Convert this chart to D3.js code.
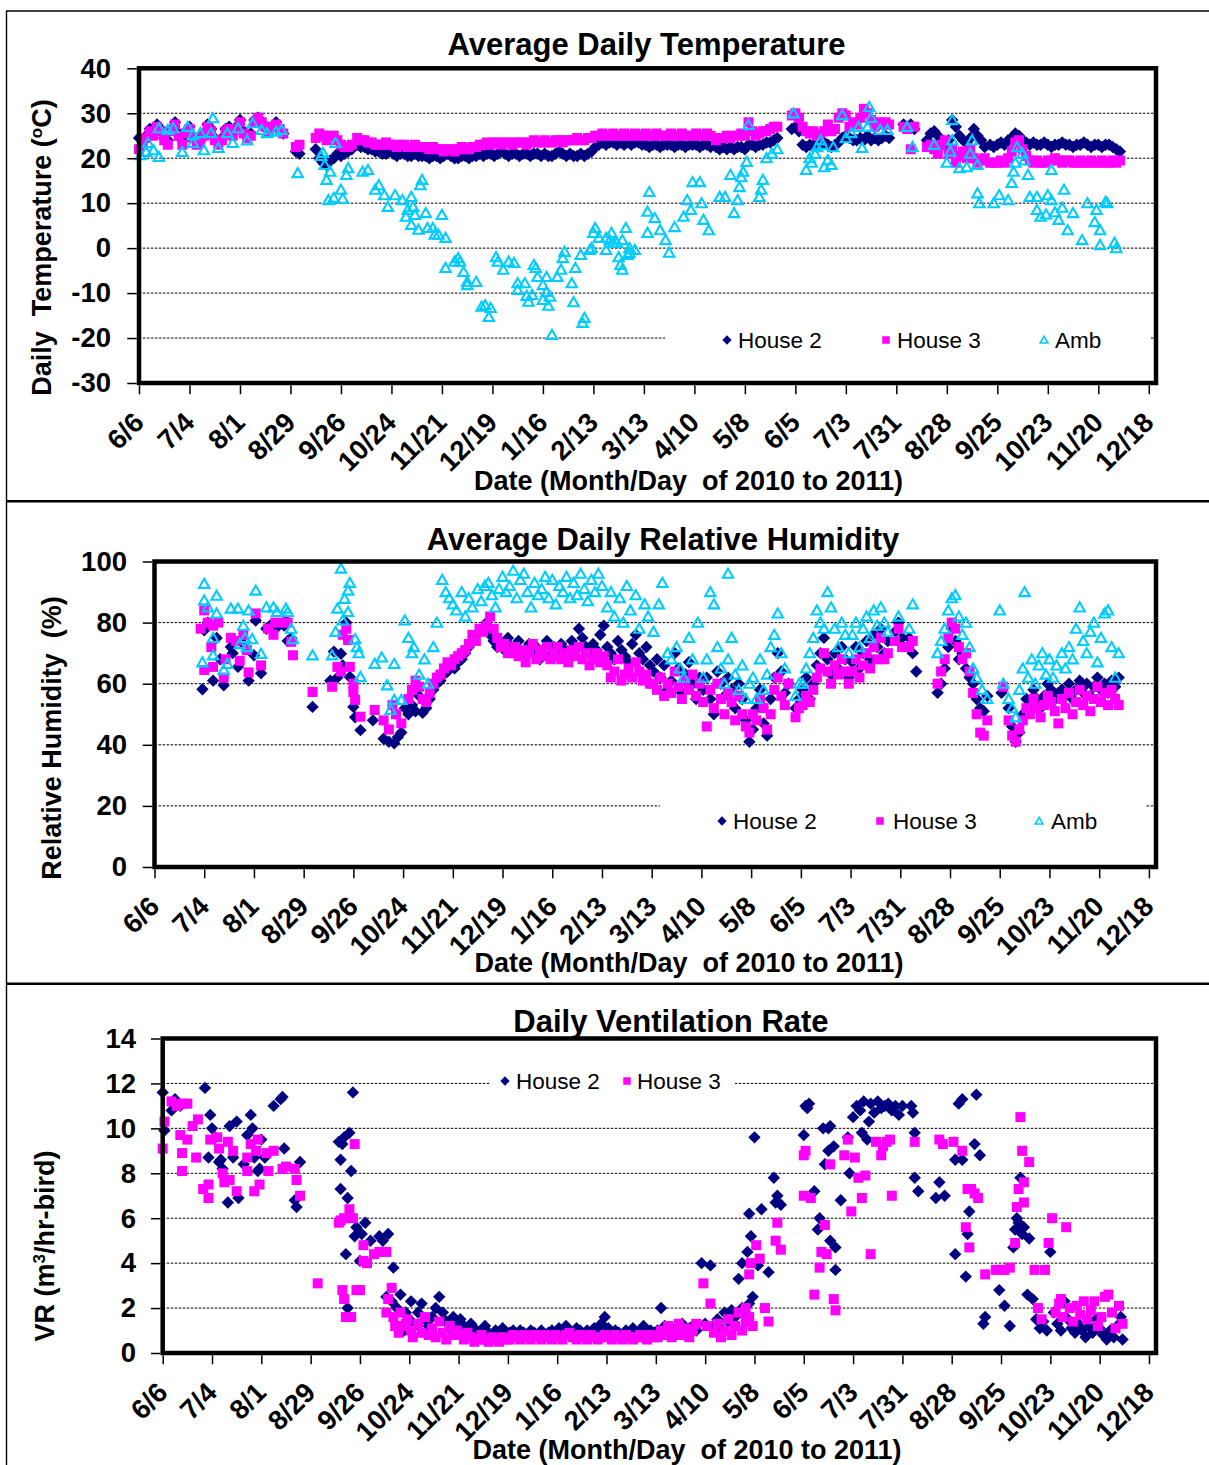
<!DOCTYPE html>
<html>
<head>
<meta charset="utf-8">
<script src="https://cdn.jsdelivr.net/npm/d3@7/dist/d3.min.js"></script>
<style>
  body { margin: 0; background: #fff; }
  svg text { font-family: "Liberation Sans", Arial, sans-serif; }
</style>
</head>
<body>
<svg id="chart" width="1209" height="1465"></svg>
<script>
// ---------------- data ----------------
// x values are days after 6/6/2010; an entry is [day, value] or
// [firstDay, [values...]] for readings taken every STEP days
var STEP = 2;
var AXIS_END_DAY = 564;
var tickLabels = ['6/6','7/4','8/1','8/29','9/26','10/24','11/21','12/19','1/16','2/13','3/13',
                  '4/10','5/8','6/5','7/3','7/31','8/28','9/25','10/23','11/20','12/18'];
var seriesNames = ['House 2', 'House 3', 'Amb'];

// average daily temperature (deg C)
var tempHouse2 = [
  [0, [24.5,24,25,26.5,25.5,27.5,26.5,24.5,24,26.5,28,25.5,24,26,27,25,24,24,25.5,27.5,26.5,24.5,23.5,24.5,26.5,27,25.5,27,28.5,26,25,25.5,28.5,29,28,27,26,27,28,26.5,25.5]],
  [87, [21.5,21]],
  [98, [22,20,19,18.5,19.5,20,21,20.5,21,21.5,22]],
  [121, [23,22.5,22.5,22,22,21.5, 21.5,21,21,21.5,21,20.5,21,21,20.5,20.5,21,20.5,
         20.5,20.5,20,20.5,20.5,20,20.5,21,20.5,20,20,20.5,20.5,20,20.5,20.5,
         21,20.5,21,21,20.5,21,21.5,21,20.5,21,21,20.5,21,21,20.5,21,
         21,20.5,21,20.5,20.5,21,21.5,21,20.5,21,20.5,20.5,21,20.5,21,21.5,
         22.5,23,23.5,23,23.5,23.5,23,23.5,23,23.5,23,23.5,23.5]],
  [279, [23,23,22.5,23,23,22.5,23,23,23,22.5,23,23,22.5,23,23,23,22.5,23,23,22.5]],
  [320, [22.5,22,22.5,22,22.5,22,22.5,22.5,22,23,23]],
  [342, [22.5,23,23,23.5,23.5,24,24.5]],
  [362, [26.5,27,26, 23,22.5,23,23,22.5,23,23.5,23,22.5,23,23.5, 24.5,25,24.5,24,24,24.5,24,25,24,24.5,24,24.5,25,24.5]],
  [424, [27.5,27,27.5,26.5]],
  [437, [24,25.5,26,25,24,23,24,28.5,27,25,24,23.5,24.5,26.5,25,24,22.5]],
  [472, [23,22.5,23,23.5,23,24,24.5,25.5,25,24,23.5,23,23.5,23,23,23.5,23,22.5,23,23,23.5,23,23,22.5,23,23,23.5,23,22.5,23,23,22.5,23,23,22.5,22,21.5]]
];
var tempHouse3 = [
  [0, [22,23,24.5,26,25,27,26,24,23,26,27.5,25,23,25.5,26.5,24.5,23,23.5,25,27,26,24,23,24,26,26.5,25,26.5,28,25.5,24.5,25,28,29,28,27,26,27,27.5,26.5,25.5]],
  [87, [22.5,23]],
  [98, [24.5,25.5,25,24,25,25,24,23,22.5,22.5,23]],
  [121, [24.5,24,24,23.5,23.5,23, 23,23,23.5,23,23,22.5,23,23,22.5,22.5,23,22.5,
         22.5,22.5,22,22.5,22,22,21.5,22,22,21.5,22,22.5,22,22,22.5,22.5,
         23,23,23.5,23,23.5,23.5,23,23.5,23.5,23,23.5,23.5,23.5,23,23.5,24,
         23.5,23.5,24,23.5,23.5,24,24,23.5,24,24,24,24.5,24,24,24.5,24.5,
         25,25,25.5,25,25,25.5,25,25,25.5,25,25,25.5,25]],
  [279, [25,25.5,25,25,25.5,25,25,25,25.5,25,25,25.5,25,25,25,25.5,25,25,25.5,25]],
  [320, [24,24.5,24.5,25,24.5,25,25,25.5,25,28,26]],
  [342, [25,25.5,26,26,26.5,27,27]],
  [362, [29.5,30,29, 27,26,25.5,26,25,25.5,26,27.5,26,26.5,29, 30,29.5,27,28,27.5,29,31,30,28.5,27,28,27.5,28,27.5]],
  [424, [27,26.5,22,27]],
  [437, [22.5,23,22,21,23,24,21,22,19,20.5,21.5,20,22,20,19,19.5,20]],
  [472, [19,19,19,19.5,19,20,21.5,23.5,24,22,20.5,19.5,19,19.5,19,19,19.5,19.5,20,19.5,19,19.5,19.5,19,19,19.5,19,19,19.5,19,19,19.5,19,19,19.5,19,19.5]]
];
var tempAmb = [
  [1,20.7],[4,21.4],[5,23.4],[8,21.8],[11,20.3],[11,26.7],[16,26.3],[19,26.7],[24,21.4],[27,27],[30,25.2],[30,23.4],
  [34,25.6],[36,21.8],[40,25.6],[41,28.9],[44,22.3],[49,25.6],[52,23.4],[55,26.7],[60,24],[63,27.8],[68,26.3],[71,25.6],
  [76,25.9],[79,26.3],[88,16.7],
  [101,20.5],[102,21.2],[103,18.5],[104,15.2],[105,10.7],[106,17],[108,11.2],[109,23.4],[112,13],[113,11],[115,16.3],[116,17.8],
  [124,17],[127,17.4],[131,13],[133,14],[136,11.8],[138,9.2],[142,11.8],[146,10.7],[148,7],[149,8.5],[151,11.4],[151,5.2],
  [152,9.2],[153,7.4],[155,4.1],[156,14],[157,15.2],[159,7.8],[160,4.5],[163,4.5],[164,3],[166,3],[168,7.4],[170,2.3],
  [170,-4.4],[175,-3],[177,-2.2],[178,-3],[180,-5.3],[182,-7.5],[182,-8.2],[187,-7.5],[190,-13],[192,-12.7],[194,-15.3],
  [195,-13.3],[198,-2],[199,-3],[202,-4.8],[205,-3],[208,-3.3],[210,-7.8],[210,-9.3],[214,-7.8],[215,-10.6],[216,-11.9],
  [218,-10.4],[219,-3.7],[220,-4.4],[221,-6.4],[224,-8.2],[224,-11.5],[226,-9.7],[226,-6.4],[227,-12.8],[228,-10.8],
  [229,-19.3],[232,-6.4],[234,-4.8],[235,-2.2],[236,-0.8],[240,-7.8],[241,-12],[242,-4.4],[245,-1.5],[246,-16.6],
  [247,-15.5],[250,-0.4],[251,0],
  [252,3.4],[253,4.5],[255,2.3],[259,-0.4],[259,2.3],[261,1.8],[262,3.4],[263,1.2],[265,1.2],[266,-2],[267,-3.7],
  [268,-4.8],[268,1.8],[270,4.5],[271,-1.5],[272,-1.1],[272,0],[275,-0.4],
  [282,3.4],[282,8.1],[283,12.5],[286,6.7],[289,4],[292,1.8],[294,-1],[297,4.7],[302,7],[304,10.7],[306,8.5],[307,14.7],
  [311,14.7],[312,10],[313,6.3],[316,4],
  [322,11.4],[325,11.4],[328,16.3],[330,7.8],[332,10.7],[333,13.6],[334,15.8],[335,17],[337,19.2],[338,27.4],[344,11.4],
  [345,13],[346,15.2],[348,20],[351,21],[354,22],[363,30],
  [370,17.4],[372,20],[373,19],[375,21],[376,22.5],[378,24],[379,23],[380,18],[382,19.6],[384,18.5],[385,22.5],[390,29.6],
  [392,24.5],[395,25.6],[399,27],[401,22.3],[404,27],[405,31.4],[406,29],[411,26.3],[415,26.3],
  [426,27],[429,22.5],
  [441,23],[448,19],[450,21.5],[451,24],[451,28.5],[455,17.8],[459,18],[461,21],[462,24],[465,18.5],[465,12.2],[466,10],
  [474,10],[477,11.8],[482,10.7],[484,14.5],[485,17],[486,19],[487,22.5],[490,21],[491,19.5],[493,16.3],[494,11.4],
  [498,11.4],[498,8.5],[500,7],[503,7.5],[504,11.8],[506,10.7],[506,17.4],[508,8],[510,6.3],[512,9],[513,13],[515,4],
  [518,7.8],[523,1.8],[526,10],[530,5.8],[531,8.5],[533,4],[533,0.7],[536,10.3],[537,10],[541,1.2],[542,0]
];

// average daily relative humidity (%)
var rhHouse2 = [
  [27,58.2],[28,77.5],[30,80],[33,61],[35,75],[37,68],[39,59.5],[43,72],[44,70],[47,65.5],[50,73],[53,61],[56,69.3],
  [57,80.7],[60,63.4],[63,78],[65,79],[69,78.5],[73,79],[74,80.7],[75,74],[77,75],
  [89,52.4],
  [99,61],[101,70.5],[103,62],[105,69.8],[106,66],[108,80],[110,62.2],[112,52.4],[113,49],[116,44.8],[123,48],[129,42],
  [132,41],[135,40.5],[137,42.5],[139,44],[141,52],
  [143, [50,53,51,56,50.5,52,55,58,60,61,63,64,66,65,67,68,70,72,74,76,77,78,80,76,74,72,73,71,75]],
  [201, [72,70,74,69,71,73,70,72,68,71,74,70,72,69,73,71,70,74,72,78,75,72,70,73,71,76,79]],
  [255, [72,70,68,74,71,69,67,73,76,70,68,72,66]],
  [281, [64,68,62,66,58,61,70,65,57,63,67,60,55,62]],
  [309, [58,62,55,50,64,60,56,62,58,52,60,55,48,41]],
  [337, [45,52,58,47,43,55,62,70,64,57,60]],
  [361, [52,55]],
  [365, [58,62,55,60,66,70,75,68,63,70,65,72,68,62]],
  [393, [67,72,65,70,74,68,76,72,78,70,74]],
  [417, [77,80,75]], [425, [75,70,64]],
  [441, [57,60,65,72,78,74,68,70,65,62]],
  [461, [60,55,52,51,56]], [477,57],
  [481, [52,46,41,44,50,55,53,58,55,52,56,60,58,55,57]],
  [511, [58,56,60,55,58,61,57,60,56,59,62,58,60,57,61,59,62]]
];
var rhHouse3 = [
  [26,78],[28,64.5],[28,84],[30,80],[32,72],[33,79],[33,65.5],[36,80],[39,62],[40,68],[43,75],[46,74],[48,67.5],[50,76],
  [52,71],[53,63.7],[57,83],[60,66],[64,78],[67,76],[68,80],[73,80],[75,80],[77,73.7],[78,69.3],
  [89,57.3],
  [100,59],[103,65.5],[105,64],[106,76],[108,78],[109,74.3],[110,65.5],[112,60],[112,57.3],[113,54.7],[116,49.2],[124,51.4],
  [129,48],[132,45],[134,53],[136,50],[139,47],
  [143, [55,58,61,59,55,54,57,60,62,63,65,67,66,68,69,70,71,73,76,74,78,77,79,82,78,75,72,73,70]],
  [201, [70,72,69,71,67,70,73,68,71,69,72,68,70,72,68,70,67,71,69,72,68,70,66,68,70,67,69]],
  [255, [66,62,64,68,61,63,65,62,67,64,61,63,60]],
  [281, [60,58,62,56,60,57,64,59,55,61,58,63,56,60]],
  [309, [54,46,58,52,60,55,50,57,54,48,56,50,46,44]],
  [337, [50,48,55,52,45,50,58,62,56,53,60]],
  [361, [49,52]],
  [365, [53,56,54,58,62,65,70,64,60,66,63,68,64,60]],
  [393, [64,68,62,66,70,65,72,68,75,68,70]],
  [417, [74,78,72]], [425, [72,74]],
  [441, [60,64,68,75,80,78,72,68,70,64]],
  [461, [57,50,44,43,48]], [478,59],
  [481, [48,43,41,45,48,52,50,55,52,49,53,56,54,51,47]],
  [511, [55,52,57,50,54,58,53,56,51,55,59,54,57,53,58,55,53]]
];
var rhAmb = [
  [27,67],[28,92.7],[28,87.3],[30,85],[33,75],[33,69.3],[35,88.8],[35,83],[39,64.5],[41,66.5],[43,84.6],[47,84.6],[48,73],
  [50,79],[51,75],[52,72],[53,84],[55,74.6],[57,90.5],[60,69.8],[63,85],[67,85],[69,83.5],[74,84.6],[75,83.5],[77,78],[78,74.6],
  [89,69.3],
  [100,69.3],[102,77],[103,84.6],[105,97.7],[106,80.7],[107,87.8],[109,90.5],[109,83.5],[110,93],[113,74.6],[114,72],[115,70],
  [116,62.2],[124,66.5],[128,68.6],[131,59.5],[133,51.4],[135,66.5],[135,54.7],[139,54.7],[141,80.7],[143,75],[145,70],[146,72],
  [149,63],[152,68],[154,60],[157,72],[159,80],[162,94],[164,90],[166,88],[168,86],[170,84],[173,90],[175,82],[177,88],[179,85],
  [182,91],[184,87],[186,92],[188,93],[190,89],[192,85],[194,91],[196,95],[198,90],
  [200, [92,97,88,94,96,90,85,93,89,91,95,88,94,86,92,90,95,88,93,89,96,91,87,94,90,96,92]],
  [255,85],[257,90],[259,82],[262,88],[264,80],[266,92],[268,84],[271,89],[273,78],[276,86],[278,82],
  [281,77],[284,86],[286,93],[289,70],[291,68],[294,72],[296,65],[298,62],[301,75],[303,68],[306,80],
  [309,62],[311,68],[313,90],[315,86],[317,72],[319,65],[321,60],[323,68],[323,96],[325,75],[327,63],[329,58],[331,66],[333,55],[335,60],
  [337,62],[339,55],[341,68],[343,58],[345,63],[347,72],[349,76],[351,83],[353,70],[355,65],[361,56],[363,60],
  [365,60],[367,65],[369,70],[371,75],[373,84],[375,80],[377,78],[379,90],[381,85],[383,78],[385,72],[387,80],[389,76],[391,70],
  [393,76],[395,80],[397,72],[399,78],[401,82],[403,75],[405,84],[407,79],[409,85],[411,80],[413,77],[419,82],[425,78],[427,86],
  [441,70],[443,74],[445,78],[447,84],[449,88],[451,89],[453,82],[455,76],[457,80],[459,72],
  [461,65],[463,62],[466,58],[469,55],[476,84],[478,60],
  [481,55],[483,52],[485,49],[487,58],[489,65],[490,90],[492,62],[494,68],[496,60],[498,66],[500,70],[502,63],[504,68],[506,62],[508,66],
  [511,70],[513,65],[515,72],[517,68],[519,78],[521,85],[523,74],[525,70],[527,77],[529,80],[531,67],[533,75],[535,83],[537,84],
  [539,72],[541,62],[543,70]
];

// daily ventilation rate (m3/hr-bird)
var vrHouse2 = [
  [0,11.6],[1,9.9],[5,10.8],[7,11.3],[8,11.1],[10,11.0],[24,11.8],[26,8.7],[27,10.6],[28,10.0],[30,9.6],[32,8.5],[33,8.6],[34,8.2],
  [37,6.7],[38,10.1],[40,8.7],[42,10.3],[43,6.9],[46,8.4],[48,9.7],[50,10.6],[51,10.0],[52,8.7],[54,8.1],[55,8.2],[56,9.5],
  [58,8.7],[63,11.0],[67,11.3],[68,11.4],[69,9.1],[75,6.8],[76,6.5],[78,8.5],
  [100,9.4],[101,8.6],[101,7.3],[102,9.3],[103,9.6],[104,4.4],[105,6.9],[105,2.0],[106,9.8],[107,8.1],[108,11.6],[109,5.2],
  [110,5.6],[112,4.1],[113,5.3],[115,5.8],[118,5.0],[123,5.2],[125,5.0],[127,2.5],[128,5.3],[130,2.3],[131,3.8],[133,2.0],
  [135,2.6],[137,1.0],[138,1.8],[140,1.5],[141,2.3],[143,1.2],
  [145, [1.8,2.2,1.5,1.2,1.6,2.0,2.5,1.8,1.4,1.1,1.6,1.3, 1.5,1.2,0.9,1.3,1.1,0.8,1.0,1.2,0.9,0.7,1.0,0.8,1.1,0.9]],
  [197, [0.9,1.0,0.8,1.0,0.9,0.8,1.0,0.9,0.8,1.0, 0.7,0.9,1.0,0.8,1.1,0.9,1.2,1.0,0.9,1.1,
         1.0,0.8,1.0,0.9,1.1,1.0,1.3,1.6,1.1,0.9, 1.0,0.9,0.8,1.0,0.9,1.1,0.8,1.0,1.2,0.9, 1.0,0.9]],
  [281,1.0],[283,2.0],[285,1.2],[287,0.9],[289,1.1],[291,0.8],[293,1.0],[295,1.3],[297,0.9],[299,1.1],[301,1.2],[303,1.0],
  [306,4.0],[308,1.3],[311,3.9],
  [313, [1.2,1.5,1.1,1.8,1.4,1.9,1.6,3.3,2.0,1.7,2.2,2.5]],
  [329,4.0],[332,4.5],[333,6.2],[334,5.2],[336,9.6],[338,3.9],[340,6.4],[344,3.6],[347,7.8],[348,6.7],[349,7.0],[351,6.6],
  [364,9.7],[365,11.0],[366,10.9],[367,11.1],[370,7.2],[372,5.5],[373,6.0],[375,10.0],[376,8.4],[378,9.0],[378,10.0],
  [379,10.1],[379,5.0],[381,9.2],[382,3.7],[382,4.7],[385,6.8],
  [389,9.6],[390,8.0],[392,10.5],[394,11.0],[396,10.8],[397,9.8],[398,11.2],[400,9.5],[401,10.3],[402,11.1],[404,10.7],
  [406,11.2],[408,10.9],[410,11.0],[412,11.1],[414,10.8],[416,11.0],[418,10.6],[420,11.0],
  [425,11.0],[426,10.7],[427,9.8],[427,7.8],[429,7.2],[439,6.9],[441,7.6],[444,7.0],
  [450,8.6],[450,4.4],[452,11.1],[454,11.3],[454,8.6],[456,3.4],[457,5.3],[458,6.3],[461,9.3],[462,11.5],[464,8.8],[466,1.3],[467,1.6],
  [475,2.8],[478,2.1],[481,1.2],[483,4.7],[484,5.5],[485,6.0],[486,5.8],[487,7.8],[488,5.3],[489,5.6],[491,2.6],[492,5.1],
  [494,2.4],[496,1.5],[498,1.1],[500,1.4],[502,1.0],[504,4.5],[506,1.8],[508,1.3],[510,1.0],[512,2.3],[514,1.5],[516,1.1],
  [518,0.9],[520,1.3],[522,1.0],[524,0.7],[526,1.2],[528,0.9],[530,1.5],[532,1.1],[534,0.8],[536,0.6],[538,1.0],[540,0.7],
  [542,1.2],[544,1.6],[545,0.6]
];
var vrHouse3 = [
  [0,9.1],[1,10.3],[5,11.2],[8,11.0],[10,9.7],[11,11.1],[11,8.9],[11,8.1],[14,11.1],[14,9.5],[17,10.1],[19,8.7],[20,10.4],
  [23,7.3],[26,7.5],[26,6.9],[27,9.5],[31,9.6],[32,9.1],[34,8.0],[35,7.6],[37,9.4],[38,7.7],[40,9.0],[42,7.2],[48,8.7],
  [48,8.1],[50,9.3],[52,7.2],[53,9.0],[54,9.5],[55,7.5],[59,8.9],[60,8.1],[63,9.0],[68,8.2],[70,8.3],[75,8.2],[76,7.7],[78,7.0],
  [88,3.1],
  [100,5.8],[101,5.9],[102,2.8],[103,6.0],[103,2.4],[104,1.6],[106,6.4],[107,1.6],[108,6.0],[109,9.3],[110,2.8],[112,2.8],
  [114,4.1],[114,4.8],[116,4.0],[120,4.4],[123,4.5],[127,4.5],[127,1.8],[128,2.4],[130,2.9],[131,1.6],[132,1.2],[134,0.9],
  [135,1.8],[136,1.2],[138,1.3],[139,1.5],[141,1.0],[142,0.7],
  [145, [1.3,0.9,1.6,0.8,1.1,0.7,1.4,0.9,0.6,1.2,0.8,1.0, 0.8,0.6,0.9,0.7,0.5,0.6,0.8,0.6,0.5,0.7,0.6,0.5,0.7,0.6]],
  [197, [0.6,0.8,0.7,0.6,0.8,0.7,0.6,0.8,0.7,0.6, 0.8,0.7,0.6,0.8,0.7,0.6,0.8,0.9,0.7,0.6,
         0.8,0.7,0.6,0.8,0.7,0.6,0.7,0.8,0.7,0.6, 0.8,0.7,0.6,0.8,0.7,0.6,0.7,0.8,0.7,0.6, 0.8,0.7]],
  [281,0.7],[283,1.0],[285,0.8],[287,1.2],[289,0.7],[291,0.9],[293,1.3],[295,0.8],[297,1.1],[299,0.7],[301,1.0],[303,1.3],
  [307,3.1],[309,1.2],[311,2.2],
  [313, [0.9,1.3,0.7,1.0,1.5,0.8,1.2,1.8,1.0,1.4,1.6,1.2]],
  [331,2.0],[333,3.5],[334,4.0],[337,4.8],[339,4.2],[342,2.0],[344,1.4],[348,5.0],[349,5.8],[351,4.6],
  [364,8.8],[364,7.0],[365,9.0],[368,6.9],[370,2.6],[373,3.8],[374,4.5],[376,5.7],[377,4.4],[379,8.4],[381,2.4],[382,1.9],[387,8.8],
  [389,9.5],[391,6.3],[393,8.7],[395,7.8],[397,6.9],[399,7.9],[402,4.4],[405,9.4],[408,8.8],[409,9.2],[411,9.4],[413,9.5],[414,7.0],
  [427,9.4],[441,9.5],[443,9.3],
  [449,9.4],[454,9.0],[456,5.6],[457,7.3],[458,4.7],[459,7.3],[461,7.1],[463,6.9],[467,3.5],
  [473,3.7],[476,3.7],[478,3.7],[481,3.8],[484,4.9],[485,6.5],[486,7.3],[487,10.5],[488,9.0],[489,7.6],[489,6.7],[492,8.5],[495,3.7],
  [497,2.0],[499,1.5],[501,3.7],[503,4.9],[505,6.0],[507,1.8],[509,2.2],[510,2.4],[511,1.6],[513,5.6],[515,2.0],[517,1.4],
  [519,2.1],[521,1.7],[523,2.3],[525,1.5],[527,1.9],[529,2.3],[531,1.2],[533,1.6],[535,2.5],[537,2.6],[539,1.8],[541,1.1],
  [543,2.1],[545,1.3]
];

// ---------------- drawing ----------------
var svg = d3.select('#chart');

var color = { house2: '#000080', house3: '#ff00ff', amb: '#00ccff' };
var shape = {
  diamond: 'M0,-6.2L6.2,0L0,6.2L-6.2,0Z',
  square: 'M-5,-5H5V5H-5Z',
  triangle: 'M0,-5L5.2,4.1H-5.2Z'
};

// turn runs into [day, value] points
function expand(entries) {
  var out = [];
  entries.forEach(function(e) {
    if (Array.isArray(e[1])) {
      e[1].forEach(function(v, i) { out.push([e[0] + i * STEP, v]); });
    } else out.push(e);
  });
  return out;
}

function styleMarker(sel, type) {
  if (type == 'triangle') {
    sel.attr('fill', 'none').attr('stroke', color.amb).attr('stroke-width', 2.1);
  } else {
    sel.attr('fill', type == 'diamond' ? color.house2 : color.house3);
  }
}

// page frame lines
svg.append('line').attr('x1', 6.5).attr('x2', 6.5).attr('y1', 11).attr('y2', 1465)
   .attr('stroke', '#000').attr('stroke-width', 1.4);
[[11, 1.3], [501.3, 2.6], [983.8, 2.6]].forEach(function(l) {
  svg.append('line').attr('x1', 6).attr('x2', 1209).attr('y1', l[0]).attr('y2', l[0])
     .attr('stroke', '#000').attr('stroke-width', l[1]);
});

var panels = [
  {
    left: 139, right: 1156, top: 68.3, bottom: 383, yDomain: [-30, 40], yStep: 10, labelX: 111,
    title: 'Average Daily Temperature', titleX: 646.5, titleY: 55,
    yTitle: ['Daily  Temperature (', 'o', 'C)'], yTitleX: 51, yTitleY: 247.5,
    xTitleX: 688.5, xTitleY: 490,
    legendBox: [665, 320, 485, 38],
    legend: [{type: 'diamond', x: 727, tx: 738}, {type: 'square', x: 886, tx: 897}, {type: 'triangle', x: 1044, tx: 1055}],
    legendY: 340,
    series: [{type: 'diamond', data: tempHouse2}, {type: 'square', data: tempHouse3}, {type: 'triangle', data: tempAmb}]
  },
  {
    left: 154.5, right: 1156, top: 561.5, bottom: 867, yDomain: [0, 100], yStep: 20, labelX: 127,
    title: 'Average Daily Relative Humidity', titleX: 663, titleY: 550,
    yTitle: ['Relative Humidity  (%)'], yTitleX: 61, yTitleY: 738,
    xTitleX: 689, xTitleY: 972,
    legendBox: [660, 800, 485, 42],
    legend: [{type: 'diamond', x: 722, tx: 733}, {type: 'square', x: 880, tx: 893}, {type: 'triangle', x: 1039, tx: 1051}],
    legendY: 821,
    series: [{type: 'diamond', data: rhHouse2}, {type: 'square', data: rhHouse3}, {type: 'triangle', data: rhAmb}]
  },
  {
    left: 162.7, right: 1156, top: 1038.5, bottom: 1353, yDomain: [0, 14], yStep: 2, labelX: 136,
    title: 'Daily Ventilation Rate', titleX: 671, titleY: 1032,
    yTitle: ['VR (m', '3', '/hr-bird)'], yTitleX: 54, yTitleY: 1246,
    xTitleX: 687, xTitleY: 1459,
    legendBox: [490, 1067, 245, 32],
    legend: [{type: 'diamond', x: 505, tx: 516}, {type: 'square', x: 627, tx: 637}],
    legendY: 1081,
    series: [{type: 'diamond', data: vrHouse2}, {type: 'square', data: vrHouse3}]
  }
];

panels.forEach(drawPanel);

function drawPanel(p) {
  var x = d3.scaleLinear().domain([0, AXIS_END_DAY]).range([p.left, p.right]);
  var y = d3.scaleLinear().domain(p.yDomain).range([p.bottom, p.top]);
  var yTicks = d3.range(p.yDomain[0], p.yDomain[1] + p.yStep / 2, p.yStep);
  var g = svg.append('g');

  // dashed gridlines
  g.selectAll('.grid')
   .data(yTicks.slice(1, -1))
   .enter().append('line')
   .attr('x1', p.left).attr('x2', p.right)
   .attr('y1', function(d) { return y(d); })
   .attr('y2', function(d) { return y(d); })
   .attr('stroke', '#000')
   .attr('stroke-width', 1)
   .attr('stroke-dasharray', '2.5,1.5');

  // white legend box hides the gridline behind it
  g.append('rect')
   .attr('x', p.legendBox[0]).attr('y', p.legendBox[1])
   .attr('width', p.legendBox[2]).attr('height', p.legendBox[3])
   .attr('fill', '#fff');

  // markers, series in Excel draw order
  p.series.forEach(function(s) {
    var pts = g.append('g').selectAll('path')
               .data(expand(s.data))
               .enter().append('path')
               .attr('d', shape[s.type])
               .attr('transform', function(d) { return 'translate(' + x(d[0]) + ',' + y(d[1]) + ')'; });
    styleMarker(pts, s.type);
  });

  // legend
  var key = g.selectAll('.key')
             .data(p.legend)
             .enter().append('g')
             .attr('transform', function(d) { return 'translate(0,' + p.legendY + ')'; });
  key.append('path')
     .attr('d', function(d) { return shape[d.type]; })
     .attr('transform', function(d) { return 'translate(' + d.x + ',0) scale(0.75)'; })
     .each(function(d) { styleMarker(d3.select(this), d.type); });
  key.append('text')
     .attr('x', function(d) { return d.tx; })
     .attr('y', 8)
     .attr('font-size', '22.5px')
     .text(function(d, i) { return seriesNames[i]; });

  // plot frame
  g.append('rect')
   .attr('x', p.left).attr('y', p.top)
   .attr('width', p.right - p.left).attr('height', p.bottom - p.top)
   .attr('fill', 'none')
   .attr('stroke', '#000')
   .attr('stroke-width', 4.5);

  // y axis
  var yAxis = g.append('g')
               .attr('transform', 'translate(' + (p.left - 2.25) + ',0)')
               .call(d3.axisLeft(y).tickValues(yTicks).tickSize(9.5)
                       .tickFormat(function(d) { return String(d); }));
  yAxis.select('.domain').remove();
  yAxis.selectAll('line').attr('stroke-width', 1.5);
  yAxis.selectAll('text')
       .attr('x', p.labelX - p.left + 2.25)
       .attr('font-size', '27.5px')
       .attr('font-weight', 'bold')
       .attr('fill', '#000');

  // x axis, labels slanted like the Excel original
  var xAxis = g.append('g')
               .attr('transform', 'translate(0,' + (p.bottom + 2.25) + ')')
               .call(d3.axisBottom(x).tickValues(tickLabels.map(function(d, i) { return i * 28; }))
                       .tickSize(9)
                       .tickFormat(function(d, i) { return tickLabels[i]; }));
  xAxis.select('.domain').remove();
  xAxis.selectAll('line').attr('stroke-width', 1.5);
  xAxis.selectAll('text')
       .attr('x', 0).attr('y', 0).attr('dy', null)
       .attr('text-anchor', 'end')
       .attr('transform', 'translate(6,39) rotate(-45)')
       .attr('font-size', '27.5px')
       .attr('font-weight', 'bold')
       .attr('fill', '#000');

  // titles
  g.append('text')
   .attr('x', p.titleX).attr('y', p.titleY)
   .attr('text-anchor', 'middle')
   .attr('font-size', '31px')
   .attr('font-weight', 'bold')
   .text(p.title);

  g.append('text')
   .attr('x', p.xTitleX).attr('y', p.xTitleY)
   .attr('text-anchor', 'middle')
   .attr('font-size', '27px')
   .attr('font-weight', 'bold')
   .style('white-space', 'pre')
   .text('Date (Month/Day  of 2010 to 2011)');

  var yt = g.append('text')
            .attr('text-anchor', 'middle')
            .attr('transform', 'translate(' + p.yTitleX + ',' + p.yTitleY + ') rotate(-90)')
            .attr('font-size', '27px')
            .attr('font-weight', 'bold')
            .style('white-space', 'pre');
  p.yTitle.forEach(function(part, i) {
    var t = yt.append('tspan').text(part);
    if (i == 1) t.attr('baseline-shift', 'super').attr('font-size', '17px');
  });
}
</script>
</body>
</html>
